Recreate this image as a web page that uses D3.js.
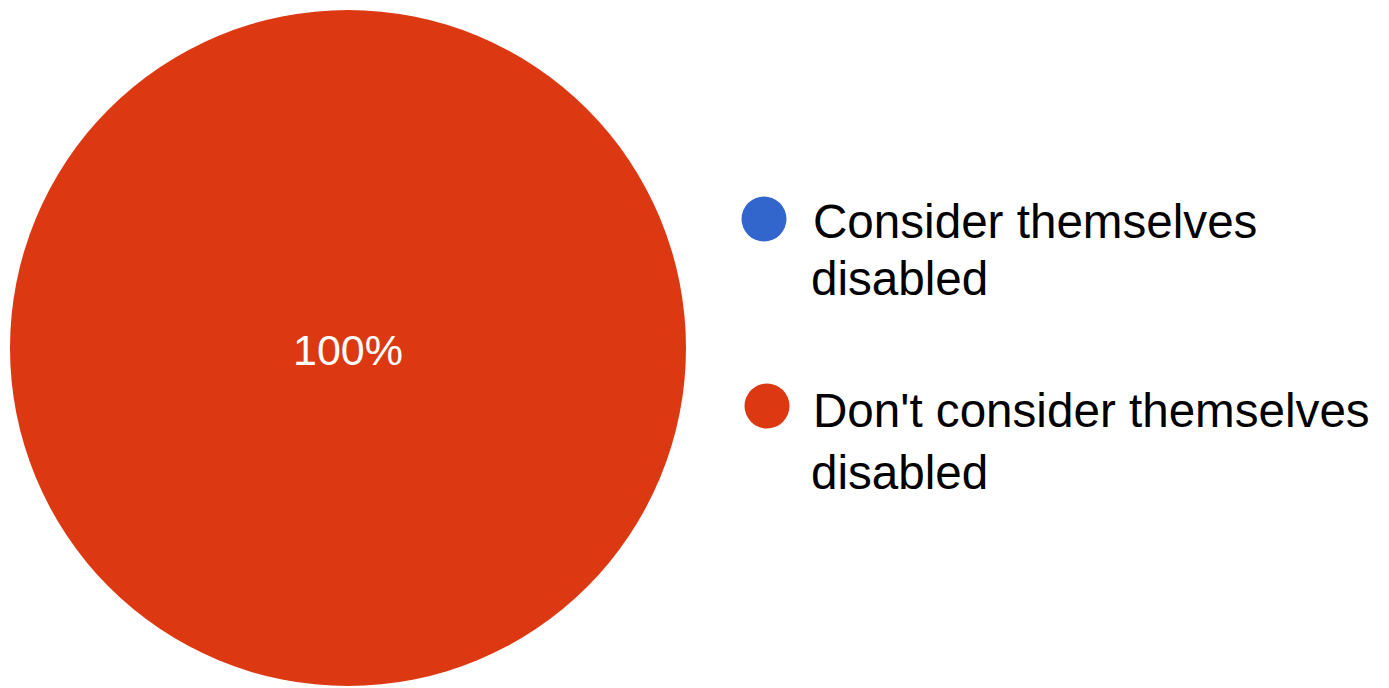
<!DOCTYPE html>
<html>
<head>
<meta charset="utf-8">
<script src="https://cdn.jsdelivr.net/npm/d3@7"></script>
<style>
  html, body { margin: 0; padding: 0; background: #ffffff; }
  svg { display: block; }
  text { font-family: Arial, "Liberation Sans", sans-serif; }
</style>
</head>
<body>
<svg id="chart" width="1389" height="688"></svg>
<script>
// Data
const categories = ["Consider themselves disabled", "Don't consider themselves disabled"];
const values = [0, 100];
const legendLines = [["Consider themselves", "disabled"], ["Don't consider themselves", "disabled"]];
const colors = ["#3366CC", "#DC3912"];

const svg = d3.select("#chart");
const cx = 348, cy = 348, R = 338;

const total = d3.sum(values);
const pie = d3.pie().sort(null).value(d => d)(values);
const arc = d3.arc().innerRadius(0).outerRadius(R);
const color = d3.scaleOrdinal().domain(categories).range(colors);

const g = svg.append("g").attr("transform", `translate(${cx},${cy})`);
g.selectAll("path.slice")
  .data(pie.filter(d => d.value > 0))
  .enter().append("path")
  .attr("class", "slice")
  .attr("d", arc)
  .attr("fill", d => color(categories[d.index]));

// slice labels
const fmt = d3.format(".0%");
const isFull = d => (d.endAngle - d.startAngle) >= 2 * Math.PI - 1e-6;
g.selectAll("text.lbl")
  .data(pie.filter(d => d.value > 0))
  .enter().append("text")
  .attr("class", "lbl")
  .attr("x", d => isFull(d) ? 0 : arc.centroid(d)[0])
  .attr("y", d => (isFull(d) ? 0 : arc.centroid(d)[1]) + 17)
  .attr("text-anchor", "middle")
  .attr("fill", "#ffffff")
  .attr("font-size", 43)
  .text(d => fmt(d.value / total));

// legend
const legendItems = [
  { dot: [764, 219], textX: [813, 811], baselines: [238, 295] },
  { dot: [767, 406], textX: [813, 811], baselines: [427, 489] }
];
const lg = svg.append("g");
categories.forEach((c, i) => {
  const it = legendItems[i];
  lg.append("circle")
    .attr("cx", it.dot[0]).attr("cy", it.dot[1]).attr("r", 22.5)
    .attr("fill", color(c));
  legendLines[i].forEach((line, j) => {
    lg.append("text")
      .attr("x", it.textX[j]).attr("y", it.baselines[j])
      .attr("font-size", 47.6)
      .attr("fill", "#000000")
      .text(line);
  });
});
</script>
</body>
</html>
